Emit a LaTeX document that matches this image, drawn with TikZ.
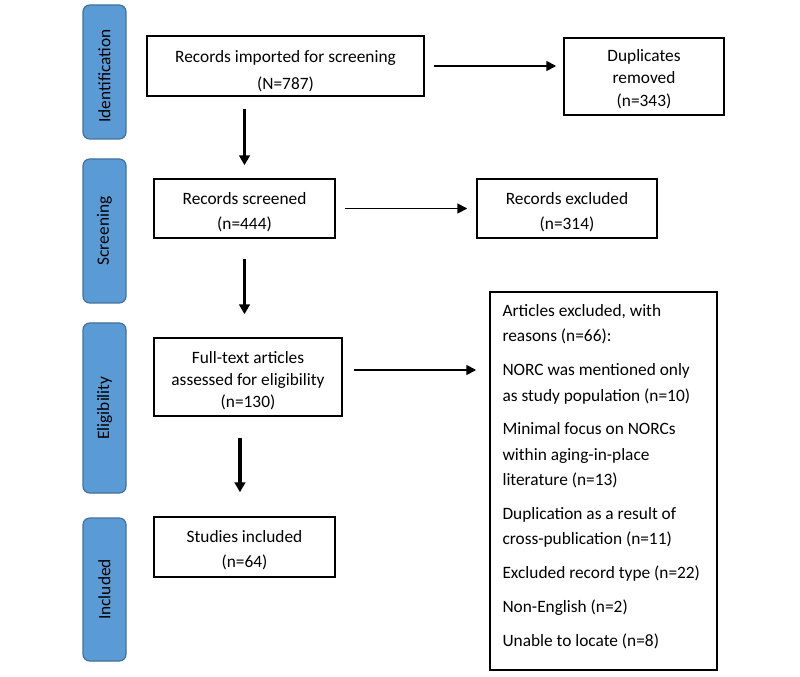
\documentclass[tikz,border=0pt]{standalone}
\usepackage{fontspec}
\setmainfont{Carlito}
\usetikzlibrary{arrows.meta}
\definecolor{barfill}{HTML}{5B9BD5}
\definecolor{barline}{HTML}{41719C}
\newcommand{\topstrut}[1]{\rule{0pt}{#1}}
\begin{document}
\begin{tikzpicture}[x=0.75pt,y=-0.75pt,
  every node/.style={font=\fontsize{13}{18.75}\selectfont},
  bar/.style={draw=barline,fill=barfill,line width=0.9pt,rounded corners=5pt,inner sep=0pt,rotate=90,minimum height=32.25pt},
  box/.style={draw=black,line width=1.1pt,align=center,inner sep=0pt},
  thickarrow/.style={line width=2.5pt,-{Triangle[length=7.5pt,width=8pt]}},
  thinarrow/.style={line width=1.3pt,-{Triangle[length=7.5pt,width=7.5pt]}}]
\useasboundingbox (0,0) rectangle (800,677);

% phase bars
\node[bar,minimum width=100.5pt] (idb) at (104.5,72) {Identification\rule{6pt}{0pt}};
\node[bar,minimum width=108pt] (scb) at (104.5,231) {Screening};
\node[bar,minimum width=127.5pt] (elb) at (104.5,408) {Eligibility};
\node[bar,minimum width=107.25pt] (inb) at (104.5,589.5) {Included};

% boxes
\node[box,minimum width=207.75pt,minimum height=45pt,font=\fontsize{13}{20}\selectfont] (b1) at (285.5,66) {\topstrut{17pt}Records imported for screening\\(N=787)};
\node[box,minimum width=120pt,minimum height=57.75pt,font=\fontsize{13}{16.8}\selectfont] (dup) at (644,76.5) {\topstrut{12.5pt}Duplicates\\removed\\(n=343)};
\node[box,minimum width=135.75pt,minimum height=44.25pt] (scr) at (244.5,208.5) {\topstrut{14.5pt}Records screened\\(n=444)};
\node[box,minimum width=135pt,minimum height=44.25pt] (exc) at (567,208.5) {\topstrut{14.5pt}Records excluded\\(n=314)};
\node[box,minimum width=141pt,minimum height=58.5pt,font=\fontsize{13}{16.5}\selectfont] (ft) at (248,377) {\topstrut{15pt}Full-text articles\\assessed for eligibility\\(n=130)};
\node[box,minimum width=135.75pt,minimum height=45pt] (st) at (244.5,547) {\topstrut{14pt}Studies included\\(n=64)};
\node[box,minimum width=170.25pt,minimum height=283.5pt] (art) at (603.5,481) {};
\node[anchor=north west,inner sep=0pt,align=left,font=\fontsize{13}{19}\selectfont] (artt) at ([xshift=9.75pt,yshift=-9.75pt]art.north west)
  {Articles excluded, with\\reasons (n=66):\\[6.4pt]
   NORC was mentioned only\\as study population (n=10)\\[6.4pt]
   Minimal focus on NORCs\\within aging-in-place\\literature (n=13)\\[6.4pt]
   Duplication as a result of\\cross-publication (n=11)\\[6.4pt]
   Excluded record type (n=22)\\[6.4pt]
   Non-English (n=2)\\[6.4pt]
   Unable to locate (n=8)};

% horizontal arrows
\draw[thinarrow,shorten <=6.75pt,shorten >=5.25pt] (b1.east) -- (b1.east -| dup.west);
\draw[thinarrow,shorten <=6.75pt,shorten >=6.75pt] (scr.east) -- (exc.west);
\draw[thinarrow,shorten <=8.25pt,shorten >=9.75pt] ([yshift=5.25pt]ft.east) -- ([yshift=5.25pt]ft.east -| art.west);

% vertical arrows
\draw[thickarrow,shorten <=9pt,shorten >=9.75pt] (scr.north |- b1.south) -- (scr.north);
\draw[thickarrow,shorten <=15pt,shorten >=17.25pt] (scr.south) -- (scr.south |- ft.north);
\draw[thickarrow,shorten <=15.75pt,shorten >=18pt] ([xshift=-3.4pt]st.north |- ft.south) -- ([xshift=-3.4pt]st.north);
\end{tikzpicture}
\end{document}
